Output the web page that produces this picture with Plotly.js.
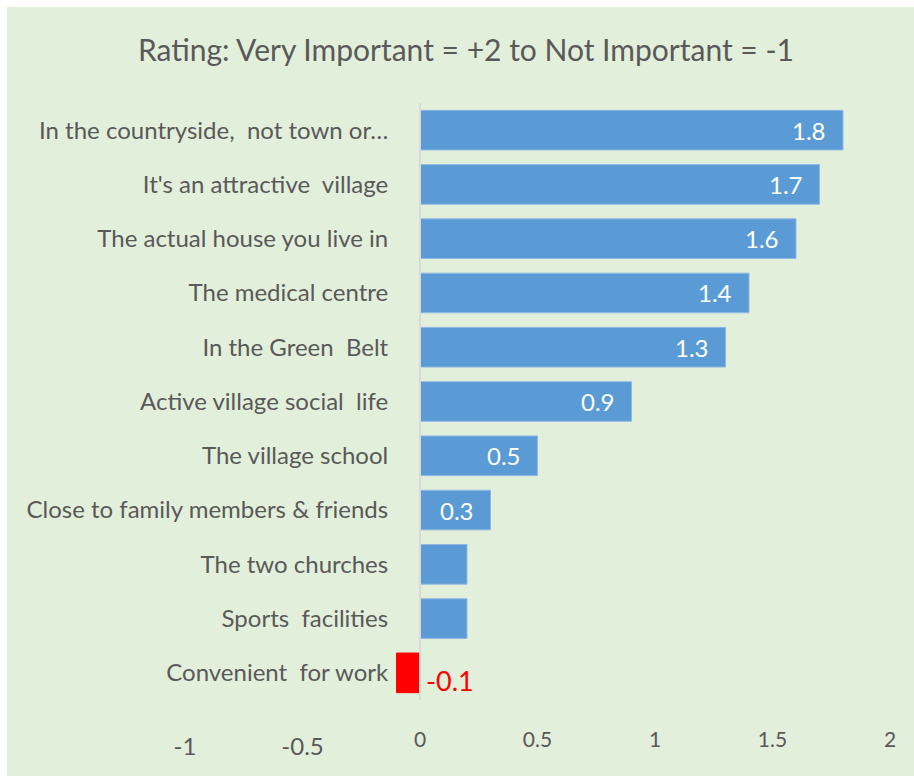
<!DOCTYPE html>
<html>
<head>
<meta charset="utf-8">
<script src="https://cdn.plot.ly/plotly-3.0.1.min.js"></script>
<style>
  html, body { margin: 0; padding: 0; background: #ffffff; }
  #chart { position: absolute; left: 7px; top: 7px; width: 907px; height: 769px; }
</style>
</head>
<body>
<div id="chart"></div>
<script>
const categories = [
  "In the countryside,  not town or\u2026",
  "It's an attractive  village",
  "The actual house you live in",
  "The medical centre",
  "In the Green  Belt",
  "Active village social  life",
  "The village school",
  "Close to family members & friends",
  "The two churches",
  "Sports  facilities",
  "Convenient  for work"
];
const values = [1.8, 1.7, 1.6, 1.4, 1.3, 0.9, 0.5, 0.3, 0.2, 0.2, -0.1];
const valueLabels = ["1.8", "1.7", "1.6", "1.4", "1.3", "0.9", "0.5", "0.3", "", "", "-0.1"];
const xTicks = [-1, -0.5, 0, 0.5, 1, 1.5, 2];

const FONT = "Lato, 'Open Sans', sans-serif";
const barColors = values.map(v => v < 0 ? "#FF0000" : "#5B9BD5");
const lineColors = values.map(v => v < 0 ? "#FF0000" : "#8FB8E3");

const negTicks = xTicks.filter(t => t < 0);
const posTicks = xTicks.filter(t => t >= 0);

const annotations = values.map((v, i) => {
  if (!valueLabels[i]) return null;
  if (v >= 0) {
    return {
      x: v, y: categories[i], xref: "x", yref: "y",
      text: valueLabels[i], showarrow: false,
      xanchor: "right", xshift: -15,
      font: {family: FONT, size: 24, color: "#FFFFFF"}
    };
  }
  return {
    x: 0, y: categories[i], xref: "x", yref: "y",
    text: valueLabels[i], showarrow: false,
    xanchor: "left", xshift: 4, yshift: -8,
    font: {family: FONT, size: 27, color: "#FF0000"}
  };
}).filter(a => a);

const trace = {
  type: "bar",
  orientation: "h",
  x: values,
  y: categories,
  marker: {color: barColors, line: {color: lineColors, width: 1}},
  width: 0.73,
  hoverinfo: "x+y"
};

// invisible helper trace to activate the second x axis (larger negative tick labels)
const helper = {
  type: "scatter", mode: "markers",
  x: [], y: [], xaxis: "x2", yaxis: "y",
  hoverinfo: "skip", showlegend: false
};

const axisCommon = {
  range: [-1, 2],
  showgrid: false,
  zeroline: false,
  showline: false,
  ticks: "",
  fixedrange: true
};

const layout = {
  paper_bgcolor: "#E2EFDA",
  plot_bgcolor: "rgba(0,0,0,0)",
  margin: {l: 178, r: 24, t: 96, b: 76},
  showlegend: false,
  title: {
    text: "Rating: Very Important = +2 to Not Important = -1",
    font: {family: FONT, size: 30, color: "#595959"},
    x: 0.506, xanchor: "center", y: 0.943, yanchor: "middle"
  },
  xaxis: Object.assign({}, axisCommon, {
    tickvals: posTicks,
    ticktext: posTicks.map(String),
    ticklabelstandoff: 25,
    tickfont: {family: FONT, size: 21, color: "#595959"}
  }),
  xaxis2: Object.assign({}, axisCommon, {
    overlaying: "x",
    side: "bottom",
    anchor: "y",
    tickvals: negTicks,
    ticktext: negTicks.map(String),
    ticklabelstandoff: 30,
    tickfont: {family: FONT, size: 24, color: "#595959"}
  }),
  yaxis: {
    categoryorder: "array",
    categoryarray: categories.slice().reverse(),
    autorange: false,
    range: [-0.5, categories.length - 0.5],
    anchor: "free",
    position: 1 / 3,
    side: "left",
    showline: true,
    linecolor: "#D9D9D9",
    linewidth: 2,
    showgrid: false,
    zeroline: false,
    ticks: "",
    ticklabelstandoff: 26,
    tickfont: {family: FONT, size: 24, color: "#595959"},
    fixedrange: true
  },
  annotations: annotations
};

Plotly.newPlot("chart", [trace, helper], layout, {displayModeBar: false, responsive: false});
</script>
</body>
</html>
